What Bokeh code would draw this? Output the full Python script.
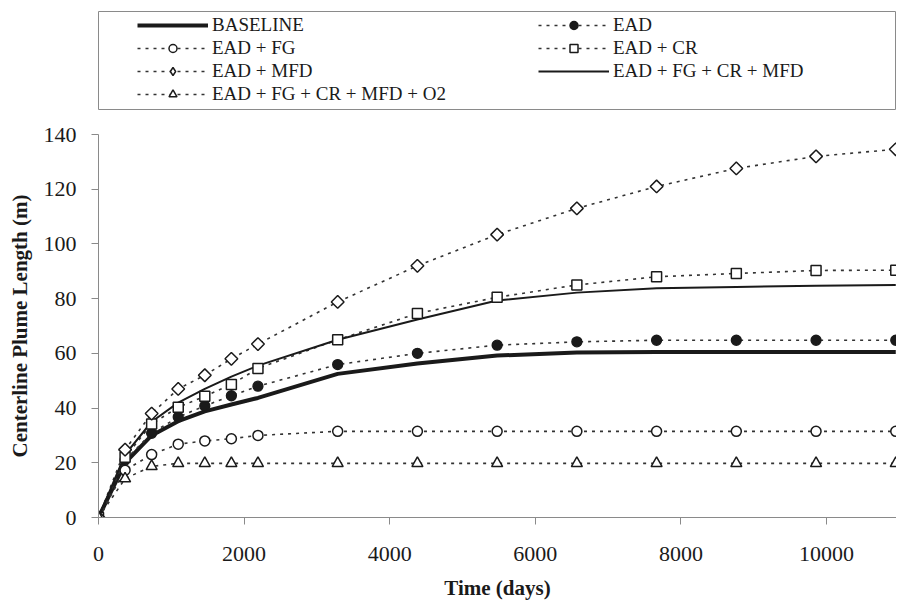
import math
from bokeh.plotting import figure
from bokeh.models import Legend, LegendItem, FixedTicker, Range1d
from bokeh.layouts import column
from bokeh.embed import file_html
from bokeh.resources import INLINE

# ---------------- data ----------------
time_days = [0, 365, 730, 1095, 1460, 1825, 2190, 3285, 4380, 5475, 6570, 7665, 8760, 9855, 10950]
baseline = [0, 20, 30, 35.2, 38.8, 41.3, 43.7, 52.5, 56.3, 59.2, 60.3, 60.5, 60.5, 60.5, 60.5]
ead = [0, 21, 30.8, 36.7, 40.8, 44.5, 48, 55.9, 60, 63, 64.2, 64.8, 64.8, 64.8, 64.8]
ead_fg = [0, 17.3, 23, 26.8, 28, 28.8, 30, 31.5, 31.5, 31.5, 31.5, 31.5, 31.5, 31.5, 31.5]
ead_cr = [0, 22, 34.2, 40.3, 44.3, 48.6, 54.5, 65, 74.6, 80.5, 85, 88, 89.2, 90.3, 90.4]
ead_mfd = [0, 24.8, 38, 47, 52, 58, 63.4, 78.8, 92, 103.4, 113, 121, 127.6, 132, 134.6]
ead_fg_cr_mfd = [0, 23, 35, 42, 47, 51.5, 55.5, 65, 72.4, 79.3, 82.2, 83.8, 84.3, 84.7, 85]
ead_fg_cr_mfd_o2 = [0, 14.2, 18.7, 19.8, 19.8, 19.8, 19.8, 19.8, 19.8, 19.8, 19.8, 19.8, 19.8, 19.8, 19.8]

series_labels = ["BASELINE", "EAD", "EAD + FG", "EAD + CR", "EAD + MFD",
                 "EAD + FG + CR + MFD", "EAD + FG + CR + MFD + O2"]
x_ticks = [0, 2000, 4000, 6000, 8000, 10000]
y_ticks = [0, 20, 40, 60, 80, 100, 120, 140]

FONT = "Liberation Serif"
INK = "#1a1a1a"
GRAY = "#8a8a8a"
DOT = "3 5"
NAN = float("nan")

# ---------------- main chart ----------------
p = figure(width=896, height=492, output_backend="svg", toolbar_location=None,
           x_range=Range1d(0, 10960), y_range=Range1d(0, 140),
           min_border_left=98, min_border_right=0, min_border_top=24, min_border_bottom=85)

p.line(time_days, baseline, line_width=4, line_color=INK)
p.line(time_days, ead, line_width=1.6, line_color="#333333", line_dash=DOT)
p.line(time_days, ead_fg, line_width=1.6, line_color="#333333", line_dash=DOT)
p.line(time_days, ead_cr, line_width=1.6, line_color="#333333", line_dash=DOT)
p.line(time_days, ead_mfd, line_width=1.6, line_color="#333333", line_dash=DOT)
p.line(time_days, ead_fg_cr_mfd, line_width=2, line_color=INK)
p.line(time_days, ead_fg_cr_mfd_o2, line_width=1.6, line_color="#333333", line_dash=DOT)

p.scatter(time_days, ead, marker="circle", size=10, fill_color=INK, line_color=INK, line_width=1.3)
p.scatter(time_days, ead_fg, marker="circle", size=10, fill_color="white", line_color=INK, line_width=1.5)
p.scatter(time_days, ead_cr, marker="square", size=10, fill_color="white", line_color=INK, line_width=1.5)
p.scatter(time_days, ead_mfd, marker="square", angle=math.pi / 4, size=9, fill_color="white",
          line_color=INK, line_width=1.5)
p.scatter(time_days, ead_fg_cr_mfd_o2, marker="triangle", size=11, fill_color="white",
          line_color=INK, line_width=1.5)

p.xaxis.ticker = FixedTicker(ticks=x_ticks)
p.yaxis.ticker = FixedTicker(ticks=y_ticks)
p.xgrid.visible = False
p.ygrid.visible = False
p.outline_line_color = None
for ax in (p.xaxis[0], p.yaxis[0]):
    ax.axis_line_color = GRAY
    ax.major_tick_line_color = GRAY
    ax.minor_tick_line_color = None
    ax.major_tick_in = 0
    ax.major_tick_out = 7
    ax.major_label_text_font = FONT
    ax.major_label_text_font_size = "22px"
    ax.major_label_text_color = INK
    ax.axis_label_text_font = FONT
    ax.axis_label_text_font_size = "21px"
    ax.axis_label_text_font_style = "bold"
    ax.axis_label_text_color = INK
p.xaxis.axis_label = "Time (days)"
p.yaxis.axis_label = "Centerline Plume Length (m)"
p.xaxis.major_label_standoff = 22
p.xaxis.axis_label_standoff = 12
p.yaxis.major_label_standoff = 15
p.yaxis.axis_label_standoff = 9

# ---------------- legend panel ----------------
lf = figure(width=896, height=110, output_backend="svg", toolbar_location=None,
            x_range=Range1d(0, 1), y_range=Range1d(0, 1),
            x_axis_location=None, y_axis_location=None,
            min_border_left=97, min_border_right=0, min_border_top=11, min_border_bottom=1)
lf.xgrid.visible = False
lf.ygrid.visible = False
lf.outline_line_color = GRAY
lf.outline_line_width = 1

markers = {
    "BASELINE": None,
    "EAD": ("circle", INK, 9),
    "EAD + FG": ("circle", "white", 9),
    "EAD + CR": ("square", "white", 9),
    "EAD + MFD": ("diamond", "white", 15),
    "EAD + FG + CR + MFD": None,
    "EAD + FG + CR + MFD + O2": ("triangle", "white", 10),
}


def sample(label):
    # legend-only renderers (one NaN point so Bokeh draws their legend glyphs)
    rs = []
    if label == "BASELINE":
        rs.append(lf.line([NAN], [NAN], line_width=4, line_color=INK))
    elif label == "EAD + FG + CR + MFD":
        rs.append(lf.line([NAN], [NAN], line_width=2, line_color=INK))
    else:
        rs.append(lf.line([NAN], [NAN], line_width=1.6, line_color="#333333", line_dash=DOT))
    kind = markers[label]
    if kind is not None:
        marker, fill, size = kind
        rs.append(lf.scatter([NAN], [NAN], marker=marker, size=size, fill_color=fill,
                             line_color=INK, line_width=1.5))
    return LegendItem(label=label, renderers=rs)


left_labels = [series_labels[0], series_labels[2], series_labels[4], series_labels[6]]
right_labels = [series_labels[1], series_labels[3], series_labels[5]]


def make_legend(labels, loc):
    return Legend(items=[sample(lb) for lb in labels], location=loc,
                  border_line_color=None, background_fill_alpha=0, padding=0, margin=0,
                  spacing=1, glyph_width=71, glyph_height=20, label_height=20,
                  label_standoff=4, label_text_font=FONT, label_text_font_size="19px",
                  label_text_color=INK)


lf.add_layout(make_legend(left_labels, (39, 4)))
lf.add_layout(make_legend(right_labels, (440, 27)))

layout = column(lf, p, spacing=0)
open("out.html", "w").write(file_html(layout, INLINE))
